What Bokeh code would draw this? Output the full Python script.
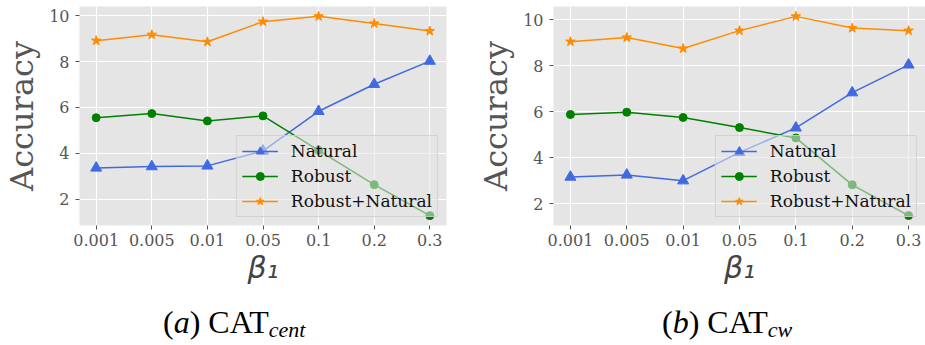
from bokeh.plotting import figure
from bokeh.layouts import row, column
from bokeh.models import Range1d, FixedTicker, Div
from bokeh.embed import file_html
from bokeh.resources import INLINE

x_labels = ["0.001", "0.005", "0.01", "0.05", "0.1", "0.2", "0.3"]
y_ticks = [2, 4, 6, 8, 10]

a_natural = [3.36, 3.42, 3.45, 4.10, 5.83, 7.01, 8.02]
a_robust = [5.55, 5.73, 5.41, 5.63, 4.13, 2.63, 1.28]
a_both = [8.91, 9.17, 8.86, 9.74, 9.97, 9.66, 9.33]

b_natural = [3.16, 3.25, 3.00, 4.23, 5.30, 6.83, 8.04]
b_robust = [5.88, 5.98, 5.75, 5.31, 4.86, 2.82, 1.48]
b_both = [9.05, 9.23, 8.75, 9.53, 10.15, 9.64, 9.53]

series_names = ["Natural", "Robust", "Robust+Natural"]
series_colors = ["#4169E1", "#008000", "#FF8C00"]
series_markers = ["triangle", "circle", "star"]
series_sizes = [11, 8, 10]

GRAY = "#555555"
x_idx = list(range(len(x_labels)))


def panel(nat, rob, both, ylo, yhi, width, bl, br):
    p = figure(
        x_range=Range1d(-0.3, len(x_labels) - 0.7),
        y_range=Range1d(ylo, yhi),
        width=width, height=300,
        min_border_left=bl, min_border_right=br,
        min_border_top=6, min_border_bottom=75,
        output_backend="svg", toolbar_location=None,
    )
    p.background_fill_color = "#E5E5E5"
    p.border_fill_color = "white"
    p.outline_line_color = None
    for g in (p.xgrid, p.ygrid):
        g.grid_line_color = "white"
        g.grid_line_width = 1.2
    p.xaxis.ticker = FixedTicker(ticks=x_idx)
    p.xaxis.major_label_overrides = {i: lab for i, lab in zip(x_idx, x_labels)}
    p.yaxis.ticker = FixedTicker(ticks=y_ticks)
    for ax in (p.xaxis, p.yaxis):
        ax.axis_line_color = None
        ax.major_tick_line_color = GRAY
        ax.major_tick_out = 4
        ax.major_tick_in = 0
        ax.minor_tick_line_color = None
        ax.major_label_text_font = "DejaVu Serif"
        ax.major_label_text_font_size = "16px"
        ax.major_label_text_color = GRAY
    p.xaxis.major_label_standoff = 4
    p.yaxis.major_label_standoff = 6
    p.yaxis.axis_label = "Accuracy"
    p.yaxis.axis_label_text_font = "DejaVu Serif"
    p.yaxis.axis_label_text_font_size = "32px"
    p.yaxis.axis_label_text_font_style = "normal"
    p.yaxis.axis_label_text_color = GRAY
    p.yaxis.axis_label_standoff = 5
    p.xaxis.axis_label = "β₁"
    p.xaxis.axis_label_text_font = "DejaVu Sans"
    p.xaxis.axis_label_text_font_size = "30px"
    p.xaxis.axis_label_text_font_style = "italic"
    p.xaxis.axis_label_text_color = "#444444"
    p.xaxis.axis_label_standoff = 1

    for vals, name, col, mk, sz in zip((nat, rob, both), series_names,
                                       series_colors, series_markers, series_sizes):
        p.line(x_idx, vals, line_color=col, line_width=1.5, legend_label=name)
        p.scatter(x_idx, vals, marker=mk, size=sz, fill_color=col,
                  line_color=col, legend_label=name)

    lg = p.legend[0]
    lg.location = "bottom_right"
    lg.margin = 8
    lg.padding = 5
    lg.spacing = 5
    lg.glyph_width = 36
    lg.glyph_height = 20
    lg.label_height = 20
    lg.label_standoff = 13
    lg.label_text_font = "DejaVu Serif"
    lg.label_text_font_size = "17px"
    lg.label_text_color = "#111111"
    lg.background_fill_color = "#E5E5E5"
    lg.background_fill_alpha = 0.55
    lg.border_line_color = "#CCCCCC"
    lg.border_line_alpha = 0.8
    return p


def caption(letter, sub, pad_left, width):
    html = (
        f'<div style="padding-left:{pad_left}px; padding-top:1px; '
        f"font-family:'Liberation Serif'; font-size:32px; line-height:1; "
        f'color:black; white-space:nowrap;">'
        f'(<i>{letter}</i>) CAT<span style="font-size:22px; font-style:italic; '
        f'vertical-align:-4px; line-height:0;">{sub}</span></div>'
    )
    return Div(text=html, width=width, height=45)


p1 = panel(a_natural, a_robust, a_both, 0.85, 10.40, 460, 73, 14)
p2 = panel(b_natural, b_robust, b_both, 1.05, 10.58, 465, 93, 0)
c1 = caption("a", "cent", 158, 460)
c2 = caption("b", "cw", 187, 465)

layout = column(row(p1, p2), row(c1, c2))
open("out.html", "w").write(file_html(layout, INLINE))
